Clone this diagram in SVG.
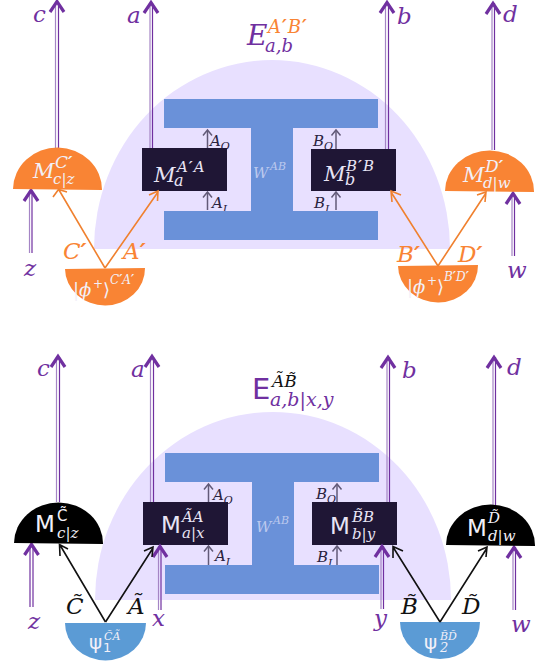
<svg xmlns="http://www.w3.org/2000/svg" width="547" height="667" viewBox="0 0 547 667">
<style>
text{font-family:"DejaVu Serif","Liberation Serif",serif;font-style:italic}
.up{font-family:"DejaVu Sans","Liberation Sans",sans-serif;font-style:normal}
.pr{font-weight:bold}
.pu{fill:#7030a0}.or{fill:#f98434}.lt{fill:#f2f0f8}.dk{fill:#2a2340}.bk{fill:#111}.pa{fill:#e8e4f4}
.wt{fill:#bcc9ee}
.hall{fill:#e8e0ff}.wb{fill:#6a91d9}.box{fill:#1f1635}
.cl{fill:none;stroke:#7030a0;stroke-width:1.2}
.cl2{fill:none;stroke:#a585c5;stroke-width:1.2}
.head{fill:none;stroke:#7030a0;stroke-width:3.2}
.q{fill:none;stroke:#625a78;stroke-width:1.5}
.oa{fill:none;stroke:#f0812f;stroke-width:1.6}
.ba{fill:none;stroke:#111;stroke-width:1.6}
.l{font-size:23px}.q1{font-size:15px}.q2{font-size:11px}
</style>
<defs>
<g id="up"><path class="head" d="M-7 12L0 1.500L7 12"/></g>
<g id="qh"><path class="q" d="M-4.500 6.500L0 1L4.500 6.500"/></g>
<g id="i"><rect class="wb" x="0" y="0" width="214" height="29"/><rect class="wb" x="0" y="112" width="214" height="29"/><rect class="wb" x="87" y="29" width="42" height="83"/></g>
</defs>

<g id="panel-top">
<g id="hall-top"><path class="hall" d="M94 249A178 189 0 0 1 450 249Z"/></g>
<g id="ports-top">
<text x="210" y="146" class="q1 dk">A<tspan class="q2" dy="4">O</tspan></text><text x="212" y="208" class="q1 dk">A<tspan class="q2" dy="5">I</tspan></text>
<text x="313" y="146" class="q1 dk">B<tspan class="q2" dy="4">O</tspan></text><text x="314" y="208" class="q1 dk">B<tspan class="q2" dy="5">I</tspan></text>
</g>
<g id="wab-top"><use href="#i" x="164" y="99"/><text class="wt"><tspan x="253" y="178" font-size="15">W</tspan><tspan x="270" y="170" font-size="11">AB</tspan></text></g>
<g id="title-top"><text><tspan x="247" y="45" font-size="28" class="pu">E</tspan><tspan x="265" y="52" font-size="18" class="pu">a,b</tspan><tspan x="268" y="33" font-size="18" class="or" letter-spacing="1">A<tspan class="pr">′</tspan>B<tspan class="pr">′</tspan></tspan></text></g>
</g>
<g id="connectors-top">
<g><path class="cl2" d="M55.500 148V3"/><path class="cl" d="M58.500 148V3"/><use href="#up" x="57" y="0"/></g>
<g><path class="cl2" d="M150 148V3"/><path class="cl" d="M152.500 148V3"/><use href="#up" x="151" y="1"/></g>
<g><path class="cl2" d="M385.500 149V3"/><path class="cl" d="M388.500 149V3"/><use href="#up" x="387" y="1"/></g>
<g><path class="cl2" d="M492 150V3"/><path class="cl" d="M494.500 150V3"/><use href="#up" x="493" y="2"/></g>
<g><path class="cl2" d="M29.500 253V191"/><path class="cl" d="M32 253V191"/><use href="#up" x="31" y="189"/></g>
<g><path class="cl2" d="M512 256V194"/><path class="cl" d="M514.500 256V194"/><use href="#up" x="513" y="192"/></g>
<path class="q" d="M207.500 149V131M207.500 210V193"/><use href="#qh" x="207.500" y="129"/><use href="#qh" x="207.500" y="191"/>
<path class="q" d="M336 149V131M336 210V193"/><use href="#qh" x="336" y="129"/><use href="#qh" x="336" y="191"/>
</g>
<g id="dark-top">
<g id="Ma"><rect class="box" x="142" y="148" width="85" height="43"/><text class="pa"><tspan x="154" y="182" font-size="21">M</tspan><tspan x="177" y="172" font-size="15" letter-spacing="1">A<tspan class="pr">′</tspan>A</tspan><tspan x="174" y="186" font-size="16">a</tspan></text></g>
<g id="Mb"><rect class="box" x="311" y="149" width="85" height="42"/><text class="pa"><tspan x="324" y="181" font-size="21">M</tspan><tspan x="346" y="171" font-size="15" letter-spacing="1">B<tspan class="pr">′</tspan>B</tspan><tspan x="345" y="185" font-size="16">b</tspan></text></g>
</g>
<g id="orange-top">
<g id="Mc"><path class="or" d="M13 189A44.500 42 0 0 1 102 190Z"/><text class="lt"><tspan x="33" y="178" font-size="21">M</tspan><tspan x="55" y="168" font-size="17">C<tspan class="pr">′</tspan></tspan><tspan x="53" y="184" font-size="15">c|z</tspan></text></g>
<g id="Md"><path class="or" d="M445 191A44.500 41 0 0 1 534 192Z"/><text class="lt"><tspan x="463" y="182" font-size="21">M</tspan><tspan x="485" y="172" font-size="17">D<tspan class="pr">′</tspan></tspan><tspan x="483" y="188" font-size="15">d|w</tspan></text></g>
<g id="phi1"><path class="or" d="M65 269A40 37 0 0 0 145 268Z"/><text class="lt"><tspan x="73" y="296" font-size="18">|ϕ</tspan><tspan x="93" y="288" font-size="12">+</tspan><tspan x="103" y="296" font-size="18" class="up">⟩</tspan><tspan x="110" y="284" font-size="12">C<tspan class="pr">′</tspan>A<tspan class="pr">′</tspan></tspan></text></g>
<g id="phi2"><path class="or" d="M398 266A40 37 0 0 0 478 265Z"/><text class="lt"><tspan x="407" y="293" font-size="18">|ϕ</tspan><tspan x="427" y="285" font-size="12">+</tspan><tspan x="437" y="293" font-size="18" class="up">⟩</tspan><tspan x="444" y="281" font-size="12">B<tspan class="pr">′</tspan>D<tspan class="pr">′</tspan></tspan></text></g>
</g>
<g id="arrows-top">
<path class="oa" d="M105 268L59 190M53 197L58.500 189.500L67 192"/>
<path class="oa" d="M105 268L158 192M149 195L158 191L157.500 201"/>
<path class="oa" d="M438 266L391 192M392 202L391 191L401 195"/>
<path class="oa" d="M438 266L486 193M477 195L486 192L485 202"/>
</g>
<g id="labels-top">
<text x="33" y="22" class="l pu">c</text><text x="127" y="23" class="l pu">a</text><text x="397" y="24" class="l pu">b</text><text x="503" y="22" class="l pu">d</text>
<text x="24" y="276" class="l pu">z</text><text x="507" y="278" class="l pu">w</text>
<text x="63" y="259" class="l or">C<tspan class="pr">′</tspan></text><text x="123" y="259" class="l or">A<tspan class="pr">′</tspan></text><text x="397" y="262" class="l or">B<tspan class="pr">′</tspan></text><text x="458" y="262" class="l or">D<tspan class="pr">′</tspan></text>
</g>

<g id="panel-bottom">
<g id="hall-bottom"><path class="hall" d="M95 600A178 188 0 0 1 451 600Z"/></g>
<g id="ports-bottom">
<text x="213" y="500" class="q1 dk">A<tspan class="q2" dy="4">O</tspan></text><text x="215" y="561" class="q1 dk">A<tspan class="q2" dy="5">I</tspan></text>
<text x="316" y="499" class="q1 dk">B<tspan class="q2" dy="4">O</tspan></text><text x="317" y="562" class="q1 dk">B<tspan class="q2" dy="5">I</tspan></text>
</g>
<g id="wab-bottom"><use href="#i" x="165" y="453"/><text class="wt"><tspan x="256" y="532" font-size="15">W</tspan><tspan x="273" y="524" font-size="11">AB</tspan></text></g>
<g id="title-bottom"><text><tspan x="252" y="399" font-size="29" class="up pu">E</tspan><tspan x="270" y="406" font-size="19" class="pu">a,b|x,y</tspan><tspan x="272" y="387" font-size="17" class="bk">ÃB̃</tspan></text></g>
</g>
<g id="connectors-bottom">
<g><path class="cl2" d="M56.500 502V357"/><path class="cl" d="M59.500 502V357"/><use href="#up" x="58" y="355"/></g>
<g><path class="cl2" d="M150.500 502V357"/><path class="cl" d="M153.500 502V357"/><use href="#up" x="152" y="355"/></g>
<g><path class="cl2" d="M387 503V357"/><path class="cl" d="M389.500 503V357"/><use href="#up" x="388" y="356"/></g>
<g><path class="cl2" d="M493 505V357"/><path class="cl" d="M495.500 505V357"/><use href="#up" x="494" y="356"/></g>
<g><path class="cl" d="M30 607V545M33 607V545"/><use href="#up" x="31.500" y="543"/></g>
<path class="q" d="M208.500 502V485M208.500 565V546"/><use href="#qh" x="208.500" y="483"/><use href="#qh" x="208.500" y="545"/>
<path class="q" d="M337 502V485M337 565V546"/><use href="#qh" x="337" y="483"/><use href="#qh" x="337" y="545"/>
</g>
<g id="dark-bottom">
<g id="Max"><rect class="box" x="143" y="502" width="85" height="43"/><text class="pa"><tspan x="161" y="533" font-size="23" class="up">M</tspan><tspan x="182" y="522" font-size="15">ÃA</tspan><tspan x="182" y="538" font-size="15">a|x</tspan></text></g>
<g id="Mby"><rect class="box" x="312" y="502" width="85" height="43"/><text class="pa"><tspan x="330" y="534" font-size="23" class="up">M</tspan><tspan x="352" y="522" font-size="15">B̃B</tspan><tspan x="352" y="539" font-size="15">b|y</tspan></text></g>
</g>
<g id="connectors-bottom-xy">
<g><path class="cl2" d="M158.500 610V546"/><path class="cl" d="M161 610V546"/><use href="#up" x="160" y="545"/></g>
<g><path class="cl2" d="M381 609V546"/><path class="cl" d="M383.500 609V546"/><use href="#up" x="382" y="545"/></g>
<g><path class="cl2" d="M513 610V547"/><path class="cl" d="M515.500 610V547"/><use href="#up" x="514" y="546"/></g>
</g>
<g id="black-bottom">
<g id="Mcz"><path d="M14 543A44.500 41 0 0 1 103 544Z" fill="#000"/><text class="lt"><tspan x="35" y="532" font-size="23" class="up">M</tspan><tspan x="57" y="521" font-size="15" class="up">C̃</tspan><tspan x="57" y="538" font-size="15">c|z</tspan></text></g>
<g id="Mdw"><path d="M446 545A44.500 41 0 0 1 535 546Z" fill="#000"/><text class="lt"><tspan x="467" y="536" font-size="23" class="up">M</tspan><tspan x="488" y="523" font-size="15">D̃</tspan><tspan x="488" y="541" font-size="15">d|w</tspan></text></g>
<g id="psi1"><path d="M65 623A40 37 0 0 0 146 623Z" fill="#5b9bd5"/><text class="lt"><tspan x="89" y="649" font-size="20" class="up">ψ</tspan><tspan x="104" y="640" font-size="11">C̃Ã</tspan><tspan x="103" y="652" font-size="13" class="up">1</tspan></text></g>
<g id="psi2"><path d="M400 622A40 37 0 0 0 480 622Z" fill="#5b9bd5"/><text class="lt"><tspan x="424" y="649" font-size="20" class="up">ψ</tspan><tspan x="440" y="640" font-size="11">B̃D̃</tspan><tspan x="440" y="652" font-size="13">2</tspan></text></g>
</g>
<g id="arrows-bottom">
<path class="ba" d="M105.500 622L60 545M60 556L59.500 544.500L68 549"/>
<path class="ba" d="M105.500 622L153 548M144 551L153 547L152 557"/>
<path class="ba" d="M440 622L393 547M393 558L393 546.500L403 551"/>
<path class="ba" d="M440 622L487 548M478 551L487 547L486 557"/>
</g>
<g id="labels-bottom">
<text x="37" y="376" class="l pu">c</text><text x="131" y="377" class="l pu">a</text><text x="402" y="378" class="l pu">b</text><text x="507" y="375" class="l pu">d</text>
<text x="28" y="629" class="l pu">z</text><text x="152" y="626" class="l pu">x</text><text x="374" y="626" class="l pu">y</text><text x="511" y="632" class="l pu">w</text>
<text x="66" y="614" class="l bk">C̃</text><text x="128" y="614" class="l bk">Ã</text><text x="401" y="614" class="l bk">B̃</text><text x="462" y="614" class="l bk">D̃</text>
</g>
</svg>
